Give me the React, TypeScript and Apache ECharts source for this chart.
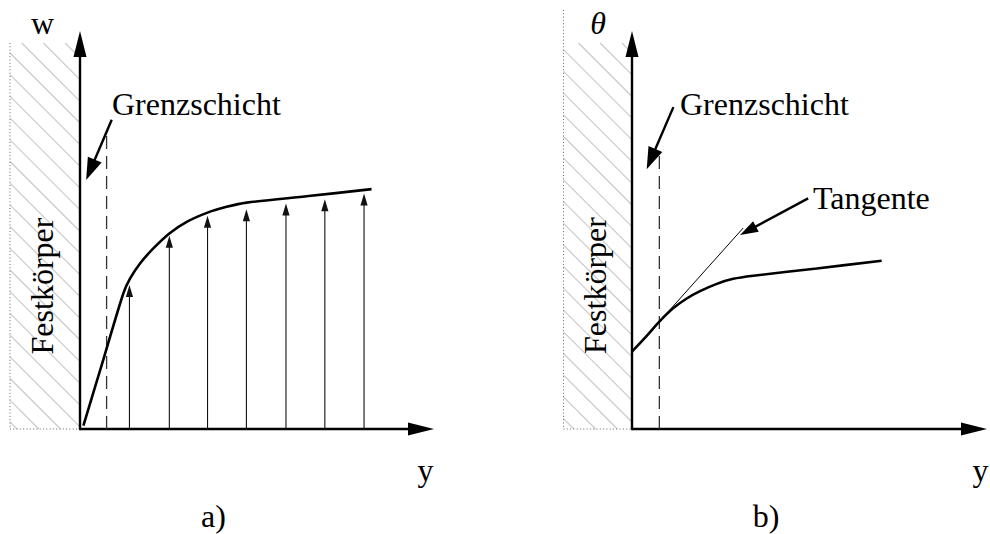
import React, { useEffect, useRef } from "react";
import * as echarts from "echarts";

// Shared value ranges of both panels (dimensionless distance y and quantity)
const X_MIN = 0;
const X_MAX = 10;
const Y_MIN = 0;
const Y_MAX = 10;

// ---- a) velocity profile w(y) ----
const profileA: number[][] = [
  [0.1, 0.09],
  [0.7, 1.85],
  [1.27, 3.52],
  [1.47, 3.91],
  [1.76, 4.3],
  [2.15, 4.69],
  [2.62, 5.08],
  [3.13, 5.38],
  [3.74, 5.62],
  [4.3, 5.77],
  [4.89, 5.88],
  [6.7, 6.05],
  [8.55, 6.23],
];
const vectorPosA = [1.45, 2.62, 3.74, 4.88, 6.04, 7.18, 8.33];
const vectorLenA = [3.74, 5.02, 5.54, 5.71, 5.86, 5.97, 6.12];
const layerEdgeA: number[][] = [
  [0.78, 0],
  [0.78, 7.71],
];
const layerPointerA: number[][] = [
  [0.93, 8.03],
  [0.18, 6.47],
];

// ---- b) temperature profile θ(y) ----
const profileB: number[][] = [
  [0, 2.01],
  [0.43, 2.42],
  [0.8, 2.79],
  [1.21, 3.14],
  [1.6, 3.39],
  [1.99, 3.58],
  [2.48, 3.77],
  [2.96, 3.9],
  [3.55, 3.98],
  [5.4, 4.17],
  [7.3, 4.37],
];
const tangentB: number[][] = [
  [0.8, 2.79],
  [3.25, 5.22],
];
const layerEdgeB: number[][] = [
  [0.8, 0],
  [0.8, 7.25],
];
const layerPointerB: number[][] = [
  [1.21, 8.36],
  [0.43, 6.75],
];
const tangentPointer: number[][] = [
  [5.15, 5.99],
  [3.16, 5.04],
];

// Labels
const axisNamesA = ["w", "y"];
const axisNamesB = ["θ", "y"];
const panelTags = ["a)", "b)"];
const wallLabel = "Festkörper";
const layerLabel = "Grenzschicht";
const tangentLabel = "Tangente";

const FONT = "'Liberation Serif', 'DejaVu Serif', serif";
const FS = 32;

const gridA = { left: 80, top: 44, width: 341, height: 385 };
const gridB = { left: 632, top: 44, width: 342, height: 385 };

function segment(p: number[][]): number[] {
  return [p[0][0], p[0][1], p[1][0], p[1][1]];
}

// Arrow drawn between two data points: shaft plus filled head
function arrowRenderer(headLen: number, headHalf: number, width: number, color: string) {
  return (_params: any, api: any) => {
    const p0 = api.coord([api.value(0), api.value(1)]);
    const p1 = api.coord([api.value(2), api.value(3)]);
    const dx = p1[0] - p0[0];
    const dy = p1[1] - p0[1];
    const len = Math.hypot(dx, dy) || 1;
    const ux = dx / len;
    const uy = dy / len;
    const bx = p1[0] - ux * headLen;
    const by = p1[1] - uy * headLen;
    const nx = -uy;
    const ny = ux;
    return {
      type: "group",
      children: [
        {
          type: "line",
          shape: { x1: p0[0], y1: p0[1], x2: bx + ux * 2, y2: by + uy * 2 },
          style: { stroke: color, lineWidth: width },
        },
        {
          type: "polygon",
          shape: {
            points: [
              [p1[0], p1[1]],
              [bx + nx * headHalf, by + ny * headHalf],
              [bx - nx * headHalf, by - ny * headHalf],
            ],
          },
          style: { fill: color },
        },
      ],
    };
  };
}

// Diagonal hatching of the solid wall, clipped to its rectangle
function hatch(left: number, right: number, top: number, bottom: number, phase: number, step: number) {
  const out: any[] = [];
  const h = bottom - top;
  for (let x0 = left + phase - Math.ceil(h / step + 1) * step; x0 < right; x0 += step) {
    const xa = Math.max(left, x0);
    const xb = Math.min(right, x0 + h);
    if (xb <= xa) continue;
    out.push({
      type: "line",
      silent: true,
      z: -10,
      shape: { x1: xa, y1: top + (xa - x0), x2: xb, y2: top + (xb - x0) },
      style: { stroke: "#c8c8c8", lineWidth: 1.1 },
    });
  }
  return out;
}

function dotted(x1: number, y1: number, x2: number, y2: number) {
  return {
    type: "line",
    silent: true,
    z: -10,
    shape: { x1, y1, x2, y2 },
    style: { stroke: "#666", lineWidth: 1, lineDash: [1, 2.3] },
  };
}

function label(text: string, x: number, y: number, align: string, opts: any = {}) {
  return {
    type: "text",
    x,
    y,
    rotation: opts.rotation || 0,
    silent: true,
    style: {
      text,
      fill: "#000",
      fontFamily: FONT,
      fontSize: FS,
      fontStyle: opts.italic ? "italic" : "normal",
      align,
      textAlign: align,
      verticalAlign: "middle",
      textVerticalAlign: "middle",
    },
  };
}

function axisPair(gridIndex: number) {
  const axisLine = {
    show: true,
    onZero: false,
    symbol: ["none", "triangle"],
    symbolSize: [13, 26],
    lineStyle: { color: "#000", width: 2.4 },
  };
  const common = {
    gridIndex,
    type: "value",
    axisLine,
    axisTick: { show: false },
    axisLabel: { show: false },
    splitLine: { show: false },
  };
  return {
    x: { ...common, min: X_MIN, max: X_MAX },
    y: { ...common, min: Y_MIN, max: Y_MAX },
  };
}

export default function App() {
  const ref = useRef<HTMLDivElement>(null);

  useEffect(() => {
    if (!ref.current) return;
    const chart = echarts.init(ref.current, undefined, { renderer: "svg" });
    const axA = axisPair(0);
    const axB = axisPair(1);

    const curveStyle = { color: "#000", width: 2.6 };
    const dashStyle = { color: "#333", width: 1.3, type: [13, 7] as any };

    const vectorsA = vectorPosA.map((x, i) => [x, 0, x, vectorLenA[i]]);

    const graphics: any[] = [
      ...hatch(10, 80, 43, 429, 11.7, 21.7),
      dotted(10, 43, 10, 429),
      dotted(10, 429, 80, 429),
      ...hatch(563.5, 632, 43, 429, 15, 21.7),
      dotted(563.5, 10, 563.5, 429),
      dotted(563.5, 429, 632, 429),
      label(axisNamesA[0], 42.5, 22.5, "center"),
      label(axisNamesA[1], 425.5, 470, "center"),
      label(axisNamesB[0], 598, 22.5, "center", { italic: true }),
      label(axisNamesB[1], 980.5, 470, "center"),
      label(panelTags[0], 213.5, 516, "center"),
      label(panelTags[1], 766, 516, "center"),
      label(layerLabel, 112, 103.5, "left"),
      label(layerLabel, 680, 104, "left"),
      label(tangentLabel, 813, 197.5, "left"),
      label(wallLabel, 42, 286, "center", { rotation: Math.PI / 2 }),
      label(wallLabel, 595, 285.5, "center", { rotation: Math.PI / 2 }),
    ];

    chart.setOption({
      animation: false,
      backgroundColor: "#fff",
      grid: [
        { ...gridA, containLabel: false },
        { ...gridB, containLabel: false },
      ],
      xAxis: [axA.x, axB.x],
      yAxis: [axA.y, axB.y],
      graphic: graphics,
      series: [
        {
          type: "line",
          xAxisIndex: 0,
          yAxisIndex: 0,
          data: layerEdgeA,
          showSymbol: false,
          lineStyle: dashStyle,
          z: 2,
        },
        {
          type: "line",
          xAxisIndex: 0,
          yAxisIndex: 0,
          data: profileA,
          showSymbol: false,
          smooth: 0.3,
          lineStyle: curveStyle,
          z: 4,
        },
        {
          type: "custom",
          xAxisIndex: 0,
          yAxisIndex: 0,
          data: vectorsA,
          encode: { x: [0, 2], y: [1, 3] },
          clip: false,
          renderItem: arrowRenderer(12, 3.6, 1.1, "#111"),
          z: 3,
        },
        {
          type: "custom",
          xAxisIndex: 0,
          yAxisIndex: 0,
          data: [segment(layerPointerA)],
          encode: { x: [0, 2], y: [1, 3] },
          clip: false,
          renderItem: arrowRenderer(22, 7.5, 2.4, "#000"),
          z: 5,
        },
        {
          type: "line",
          xAxisIndex: 1,
          yAxisIndex: 1,
          data: layerEdgeB,
          showSymbol: false,
          lineStyle: dashStyle,
          z: 2,
        },
        {
          type: "line",
          xAxisIndex: 1,
          yAxisIndex: 1,
          data: tangentB,
          showSymbol: false,
          lineStyle: { color: "#000", width: 1 },
          z: 3,
        },
        {
          type: "line",
          xAxisIndex: 1,
          yAxisIndex: 1,
          data: profileB,
          showSymbol: false,
          smooth: 0.3,
          lineStyle: curveStyle,
          z: 4,
        },
        {
          type: "custom",
          xAxisIndex: 1,
          yAxisIndex: 1,
          data: [segment(layerPointerB)],
          encode: { x: [0, 2], y: [1, 3] },
          clip: false,
          renderItem: arrowRenderer(22, 7.5, 2.4, "#000"),
          z: 5,
        },
        {
          type: "custom",
          xAxisIndex: 1,
          yAxisIndex: 1,
          data: [segment(tangentPointer)],
          encode: { x: [0, 2], y: [1, 3] },
          clip: false,
          renderItem: arrowRenderer(18, 6, 2.4, "#000"),
          z: 5,
        },
      ],
    });

    return () => chart.dispose();
  }, []);

  return (
    <div
      ref={ref}
      style={{ position: "fixed", left: 0, top: 0, width: 990, height: 534, background: "#fff" }}
    />
  );
}
